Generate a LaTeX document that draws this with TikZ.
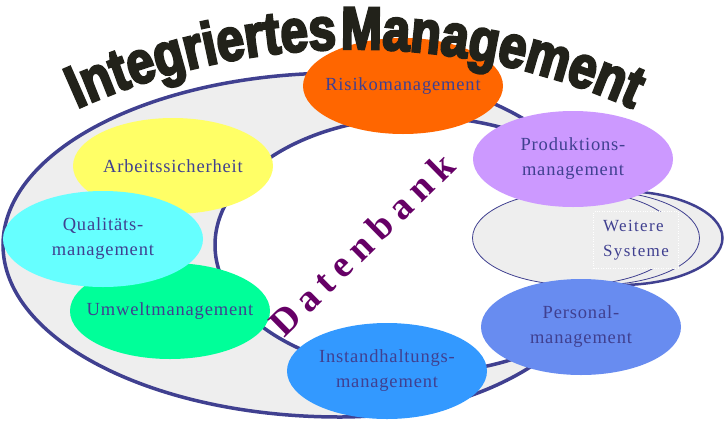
\documentclass[tikz,border=0pt]{standalone}
\usepackage{fontspec}
\usetikzlibrary{shapes.geometric,decorations.text}
\newfontfamily\lblfont[LetterSpace=4.5]{Liberation Serif}
\newfontfamily\sysfont[LetterSpace=8]{Liberation Serif}
\newfontfamily\dbfont[LetterSpace=21]{Liberation Serif}
\newfontfamily\titlefont[FakeStretch=0.82,FakeBold=4,WordSpace=0.3]{Liberation Sans}
\definecolor{ringline}{RGB}{64,64,144}
\definecolor{ringgray}{RGB}{238,238,238}
\definecolor{lbltext}{RGB}{64,64,144}
\definecolor{dbpurple}{RGB}{102,0,102}
\definecolor{titleblack}{RGB}{34,34,26}
\definecolor{riskcol}{RGB}{255,102,0}
\definecolor{prodcol}{RGB}{204,153,255}
\definecolor{arbeitcol}{RGB}{255,255,102}
\definecolor{qualicol}{RGB}{102,255,255}
\definecolor{umweltcol}{RGB}{0,255,153}
\definecolor{instcol}{RGB}{51,153,255}
\definecolor{perscol}{RGB}{104,140,240}
\def\ringw{3.5pt}

\begin{document}
\begin{tikzpicture}[x=1pt,y=-1pt]
    \tikzstyle{bubble}=[ellipse,minimum width=200pt,minimum height=96pt,inner sep=-25pt,
      align=center,text=lbltext,font=\lblfont\fontsize{18.5}{25}\selectfont]
    \tikzstyle{stack}=[ellipse,draw=ringline,fill=ringgray,minimum width=205pt,
      minimum height=94pt,inner sep=0pt]
    \tikzstyle{sysbox}=[fill=ringgray,draw=white,dotted,minimum width=85pt,minimum height=57pt,
      align=left,text=lbltext,font=\sysfont\fontsize{17}{25}\selectfont]
    \tikzstyle{dbtext}=[inner sep=0pt,text=dbpurple,font=\dbfont\bfseries\fontsize{38}{38}\selectfont]
    \useasboundingbox (0,0) rectangle (725,421);

    % Draw the ring
    \path[fill=ringgray,even odd rule] (340,73) arc[start angle=270,end angle=90,x radius=337,y radius=172]
        arc[start angle=90,end angle=-90,x radius=270,y radius=172] -- cycle
        (420,245) ellipse[x radius=205,y radius=128];
    \draw[ringline,line width=\ringw] (340,73) arc[start angle=270,end angle=90,x radius=337,y radius=172]
        arc[start angle=90,end angle=-90,x radius=270,y radius=172] -- cycle;
    \draw[ringline,line width=\ringw] (420,245) ellipse[x radius=205,y radius=128];

    % Draw the stack of further systems
    \foreach \name/\x/\lw in {C/620/2.5pt,A/597/0.8pt,B/575/0.8pt}
        \node[stack,line width=\lw] (ws-\name) at (\x,238) {};
    \node[sysbox] (ws) at (636,240) {Weitere\\Systeme};

    % Draw the management systems
    \node[bubble,fill=arbeitcol] (arbeit) at (173,166) {Arbeitssicherheit};
    \node[bubble,fill=umweltcol] (umwelt) at (170,311) {Umweltmanagement};
    \node[bubble,fill=qualicol] (quali) at (103,239) {Qualitäts-\\management};
    \node[bubble,fill=instcol] (instand) at (387,371) {Instandhaltungs-\\management};
    \node[bubble,fill=perscol] (personal) at (581,327) {Personal-\\management};
    \node[bubble,fill=prodcol] (prod) at (573,159) {Produktions-\\management};
    \node[bubble,fill=riskcol] (risk) at (403,86) {Risikomanagement};

    % Database in the middle
    \node[dbtext,anchor=base west,rotate=44.5] (db) at (284,339) {Datenbank};

    % Title along an arc
    \path[decorate,decoration={text along path,text align=center,text color=titleblack,
        text={|\titlefont\bfseries\fontsize{60}{60}\selectfont|Integriertes Management}}]
        (355,725) ++(240:676) arc[start angle=240,end angle=300,radius=676];
\end{tikzpicture}
\end{document}
